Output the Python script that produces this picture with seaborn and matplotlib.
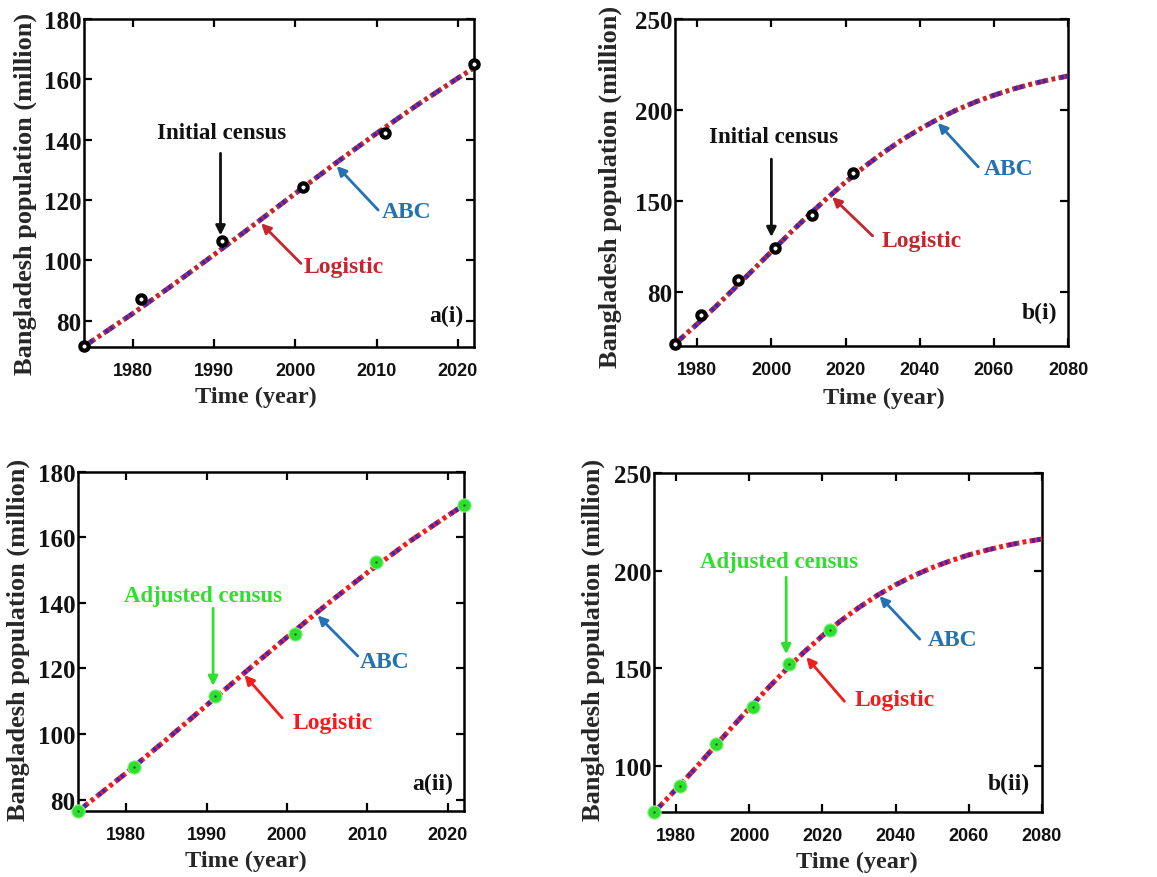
import numpy as np
import pandas as pd
import seaborn as sns
import matplotlib
matplotlib.use("Agg")
import matplotlib.pyplot as plt

# ---------------- data ----------------
census_years = [1974, 1981, 1991, 2001, 2011, 2022]
initial_census = [71.5, 87.1, 106.3, 124.4, 142.3, 165.2]
adjusted_census = [76.4, 89.9, 111.5, 130.5, 152.5, 169.8]

curve_years_short = [1974, 1980, 1985, 1990, 1995, 2000, 2005, 2010, 2015, 2020, 2022]
curve_years_long = [1974, 1980, 1985, 1990, 1995, 2000, 2005, 2010, 2015, 2020, 2025,
                    2030, 2035, 2040, 2045, 2050, 2055, 2060, 2065, 2070, 2075, 2080]

# model curves fitted to the initial census
logistic_initial_short = [71.5, 82.4, 92.0, 101.9, 112.0, 122.2, 132.3, 142.1, 151.5, 160.4, 163.8]
abc_initial_short = [71.5, 82.4, 92.0, 101.9, 112.0, 122.2, 132.3, 142.1, 151.5, 160.4, 163.8]
logistic_initial_long = [71.5, 82.4, 92.0, 101.9, 112.0, 122.2, 132.3, 142.1, 151.5, 160.4, 168.7,
                         176.3, 183.3, 189.5, 195.1, 200.1, 204.4, 208.1, 211.4, 214.2, 216.6, 218.7]
abc_initial_long = [71.5, 82.4, 92.0, 101.9, 112.0, 122.2, 132.3, 142.1, 151.5, 160.4, 168.7,
                    176.3, 183.3, 189.5, 195.1, 200.1, 204.4, 208.1, 211.4, 214.2, 216.6, 218.7]

# model curves fitted to the adjusted census
logistic_adjusted_short = [76.4, 88.1, 98.3, 108.8, 119.3, 129.6, 139.7, 149.3, 158.4, 166.7, 169.9]
abc_adjusted_short = [76.4, 88.1, 98.3, 108.8, 119.3, 129.6, 139.7, 149.3, 158.4, 166.7, 169.9]
logistic_adjusted_long = [76.4, 88.1, 98.3, 108.8, 119.3, 129.6, 139.7, 149.3, 158.4, 166.7, 174.4,
                          181.2, 187.4, 192.8, 197.5, 201.6, 205.1, 208.1, 210.6, 212.8, 214.7, 216.2]
abc_adjusted_long = [76.4, 88.1, 98.3, 108.8, 119.3, 129.6, 139.7, 149.3, 158.4, 166.7, 174.4,
                     181.2, 187.4, 192.8, 197.5, 201.6, 205.1, 208.1, 210.6, 212.8, 214.7, 216.2]

xticks_short = [1980, 1990, 2000, 2010, 2020]
xticks_long = [1980, 2000, 2020, 2040, 2060, 2080]
yticks_short = [80, 100, 120, 140, 160, 180]
yticks_long_top = [100, 150, 200, 250]
ytick_labels_long_top = ["80", "150", "200", "250"]
yticks_long_bottom = [100, 150, 200, 250]
ytick_labels_long_bottom = ["100", "150", "200", "250"]

# ---------------- style ----------------
sns.set_style("white")
plt.rcParams["lines.scale_dashes"] = False
SERIF = "Liberation Serif"
SANS = "Liberation Sans"

BLUE_LINE = "#2a2ad0"
ABC_BLUE = "#2272b4"
RED_I = "#c4262d"
RED_II = "#f21c1c"
GREEN = "#2ee02e"

# dash-dot for the logistic curve; short blue dashes for ABC sit inside each red dash
PERIOD = 17.1
LOGISTIC_DASH = (0, (9.5, 2.4, 2.8, 2.4))
ABC_DASH = (PERIOD - 1.5, (2.3, 1.7, 2.3, PERIOD - 6.3))

fig = plt.figure(figsize=(11.57, 8.78), dpi=100)

panels = [
    dict(rect=[0.0726, 0.6036, 0.3371, 0.3736], xlim=(1974, 2022), ylim=(71.3, 180),
         years=curve_years_short, logi=logistic_initial_short, abc=abc_initial_short,
         census=initial_census, kind="initial", red=RED_I,
         xticks=xticks_short, yticks=yticks_short, ylabels=[str(v) for v in yticks_short],
         tag="a(i)", tagpos=(0.972, 0.095),
         ylab=(-0.151, 0.47), xlab=(0.44, -0.152),
         note=("Initial census", 1990.9, 142.3), note_arrow=((1990.8, 135.5), (1990.8, 108.3)),
         abc_text=(2010.6, 116.3), abc_arrow=((2010.2, 116.7), (2005.1, 131.3)),
         log_text=(2001.0, 98.0), log_arrow=((2000.7, 99.0), (1995.8, 112.3))),
    dict(rect=[0.5834, 0.6048, 0.3397, 0.3724], xlim=(1974, 2080), ylim=(70.3, 250),
         years=curve_years_long, logi=logistic_initial_long, abc=abc_initial_long,
         census=initial_census, kind="initial", red=RED_I,
         xticks=xticks_long, yticks=yticks_long_top, ylabels=ytick_labels_long_top,
         tag="b(i)", tagpos=(0.972, 0.104),
         ylab=(-0.165, 0.49), xlab=(0.532, -0.156),
         note=("Initial census", 2000.5, 185.7), note_arrow=((2000.0, 173.0), (2000.0, 130.2)),
         abc_text=(2057.2, 167.6), abc_arrow=((2055.8, 168.7), (2044.9, 192.9)),
         log_text=(2029.7, 128.0), log_arrow=((2027.3, 130.8), (2016.4, 152.2))),
    dict(rect=[0.0674, 0.0752, 0.3336, 0.3861], xlim=(1974, 2022), ylim=(76.5, 180),
         years=curve_years_short, logi=logistic_adjusted_short, abc=abc_adjusted_short,
         census=adjusted_census, kind="adjusted", red=RED_II,
         xticks=xticks_short, yticks=yticks_short, ylabels=[str(v) for v in yticks_short],
         tag="a(ii)", tagpos=(0.972, 0.08),
         ylab=(-0.155, 0.507), xlab=(0.435, -0.147),
         note=("Adjusted census", 1989.6, 142.3), note_arrow=((1990.8, 138.4), (1990.8, 114.7)),
         abc_text=(2009.0, 122.2), abc_arrow=((2008.8, 123.8), (2003.8, 136.2)),
         log_text=(2000.7, 103.4), log_arrow=((1999.4, 104.9), (1994.7, 118.0))),
    dict(rect=[0.5653, 0.0740, 0.3353, 0.3861], xlim=(1974, 2080), ylim=(76.5, 250),
         years=curve_years_long, logi=logistic_adjusted_long, abc=abc_adjusted_long,
         census=adjusted_census, kind="adjusted", red=RED_II,
         xticks=xticks_long, yticks=yticks_long_bottom, ylabels=ytick_labels_long_bottom,
         tag="b(ii)", tagpos=(0.969, 0.083),
         ylab=(-0.157, 0.51), xlab=(0.523, -0.147),
         note=("Adjusted census", 2008.2, 204.9), note_arrow=((2010.1, 196.7), (2010.1, 157.3)),
         abc_text=(2048.8, 165.0), abc_arrow=((2046.6, 165.0), (2035.6, 187.0)),
         log_text=(2028.8, 134.3), log_arrow=((2026.0, 133.2), (2015.6, 155.8))),
]

for p in panels:
    ax = fig.add_axes(p["rect"])
    curve = pd.DataFrame({"year": p["years"], "abc": p["abc"], "logistic": p["logi"]})
    pts = pd.DataFrame({"year": census_years, "pop": p["census"]})

    # logistic curve (red dash-dot) with the ABC curve (blue short dashes) on top
    sns.lineplot(data=curve, x="year", y="logistic", ax=ax, color=p["red"], lw=3.6,
                 linestyle=LOGISTIC_DASH, zorder=3)
    sns.lineplot(data=curve, x="year", y="abc", ax=ax, color=BLUE_LINE, lw=3.2,
                 linestyle=ABC_DASH, zorder=4)

    if p["kind"] == "initial":
        sns.scatterplot(data=pts, x="year", y="pop", ax=ax, s=36, color="white",
                        edgecolor="black", linewidth=3.0, zorder=6, clip_on=False)
    else:
        sns.scatterplot(data=pts, x="year", y="pop", ax=ax, s=90, color=GREEN,
                        edgecolor="#8af08a", linewidth=0.8, zorder=6, clip_on=False)
        sns.scatterplot(data=pts, x="year", y="pop", ax=ax, s=3, color="#1a5a1a",
                        linewidth=0, zorder=7, clip_on=False)

    ax.set_xlim(*p["xlim"])
    ax.set_ylim(*p["ylim"])
    ax.set_xticks(p["xticks"])
    ax.set_yticks(p["yticks"])
    ax.set_yticklabels(p["ylabels"])
    for lab in ax.get_xticklabels():
        lab.set_fontfamily(SANS)
        lab.set_fontweight("bold")
        lab.set_fontsize(13)
        lab.set_color("#111111")
    for lab in ax.get_yticklabels():
        lab.set_fontfamily(SERIF)
        lab.set_fontweight("bold")
        lab.set_fontsize(18)
        lab.set_color("#111111")
    ax.tick_params(axis="both", direction="in", length=6, width=1.6, color="black",
                   top=True, right=True, bottom=True, left=True)
    ax.tick_params(axis="x", pad=11)
    ax.tick_params(axis="y", pad=2)
    for sp in ax.spines.values():
        sp.set_linewidth(1.8)
        sp.set_color("black")
        sp.set_visible(True)

    ax.set_xlabel("Time (year)", fontfamily=SERIF, fontweight="bold", fontsize=17.5)
    ax.set_ylabel("Bangladesh population (million)", fontfamily=SERIF,
                  fontweight="bold", fontsize=19)
    ax.xaxis.set_label_coords(*p["xlab"])
    ax.xaxis.label.set_va("center")
    ax.yaxis.set_label_coords(*p["ylab"])
    ax.yaxis.label.set_va("center")

    # panel tag
    ax.text(*p["tagpos"], p["tag"], transform=ax.transAxes, ha="right", va="center",
            fontfamily=SERIF, fontweight="bold", fontsize=17, color="#111111")

    # census annotation
    note_color = "#111111" if p["kind"] == "initial" else GREEN
    txt, tx, ty = p["note"]
    ax.text(tx, ty, txt, ha="center", va="center", fontfamily=SERIF,
            fontweight="bold", fontsize=16.5, color=note_color)
    (x0, y0), (x1, y1) = p["note_arrow"]
    ax.annotate("", xy=(x1, y1), xytext=(x0, y0),
                arrowprops=dict(arrowstyle="-|>", color=note_color, lw=2.0,
                                mutation_scale=14, shrinkA=0, shrinkB=0), zorder=8)

    # ABC annotation
    ax.text(*p["abc_text"], "ABC", ha="left", va="center", fontfamily=SERIF,
            fontweight="bold", fontsize=17, color=ABC_BLUE)
    (x0, y0), (x1, y1) = p["abc_arrow"]
    ax.annotate("", xy=(x1, y1), xytext=(x0, y0),
                arrowprops=dict(arrowstyle="-|>", color=ABC_BLUE, lw=2.0,
                                mutation_scale=14, shrinkA=0, shrinkB=0), zorder=8)

    # Logistic annotation
    ax.text(*p["log_text"], "Logistic", ha="left", va="center", fontfamily=SERIF,
            fontweight="bold", fontsize=17, color=p["red"])
    (x0, y0), (x1, y1) = p["log_arrow"]
    ax.annotate("", xy=(x1, y1), xytext=(x0, y0),
                arrowprops=dict(arrowstyle="-|>", color=p["red"], lw=2.0,
                                mutation_scale=14, shrinkA=0, shrinkB=0), zorder=8)

    leg = ax.get_legend()
    if leg is not None:
        leg.remove()

fig.savefig("out.png", dpi=100, facecolor="white")
